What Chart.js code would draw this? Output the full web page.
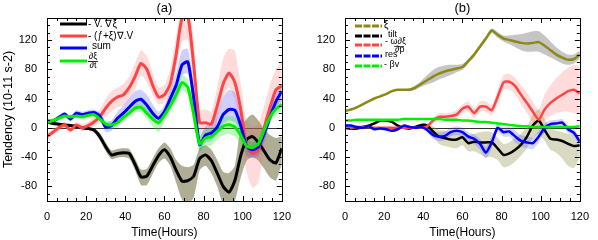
<!DOCTYPE html>
<html>
<head>
<meta charset="utf-8">
<script src="https://cdn.jsdelivr.net/npm/chart.js@4.4.1/dist/chart.umd.min.js"></script>
<style>
  body { margin: 0; background: #fff; }
  #wrapA { position: absolute; left: 0; top: 0; width: 300px; height: 240px; }
  #wrapB { position: absolute; left: 300px; top: 0; width: 298px; height: 240px; }
</style>
</head>
<body>
<div id="wrapA"><canvas id="chartA" width="300" height="240"></canvas></div>
<div id="wrapB"><canvas id="chartB" width="298" height="240"></canvas></div>
<script>
// time axis, every 3 hours
var hours = [0,3,6,9,12,15,18,21,24,27,30,33,36,39,42,45,48,51,54,57,60,63,66,69,72,75,78,81,84,87,90,93,96,99,102,105,108,111,114,117,120];
var xTicks = [0,20,40,60,80,100,120];
var yTicks = [-80,-40,0,40,80,120];

// (a) -V.grad(xi)
var advA   = [8,6,5,4,3,2,0,-1,-3,-12,-26,-37,-35,-34,-35,-50,-67,-66,-52,-38,-30,-40,-58,-73,-72,-66,-42,-37,-45,-62,-80,-88,-72,-38,-16,-12,-20,-32,-44,-48,-28];
var advAHi = [10,8,7,6,5,4,2,1,-1,-7,-20,-31,-29,-28,-29,-42,-57,-56,-42,-28,-20,-28,-44,-52,-54,-50,-28,-24,-30,-44,-60,-62,-52,0,12,18,10,-2,-10,-14,-12];
var advALo = [6,4,3,2,1,0,-2,-3,-6,-17,-32,-43,-41,-40,-42,-58,-78,-78,-63,-48,-42,-52,-75,-98,-105,-95,-58,-52,-62,-80,-105,-110,-100,-68,-45,-40,-45,-56,-68,-72,-48];
// (a) -(f+xi)div.V
var divA   = [-12,-6,0,4,-3,4,0,3,8,15,27,36,42,45,55,70,88,80,58,42,45,60,100,150,152,85,7,7,5,30,60,75,62,25,-25,-35,-30,0,28,52,57];
var divAHi = [-8,-2,4,8,1,8,5,8,15,25,40,50,55,60,70,88,106,98,75,55,58,80,125,175,180,120,25,25,22,55,95,108,105,60,10,2,5,30,60,80,90];
var divALo = [-16,-10,-4,0,-7,0,-5,-2,2,6,15,22,28,30,38,52,72,62,45,32,35,45,80,118,120,50,-8,-8,-10,10,42,55,40,-5,-60,-82,-75,-25,8,30,35];
// (a) sum
var sumA   = [9,9,14,19,12,20,18,20,21,16,1,3,13,20,28,36,39,31,20,13,22,40,58,86,90,40,-23,-10,-7,1,18,25,24,3,-25,-30,-26,-8,15,36,50];
var sumAHi = [12,12,17,22,16,24,22,24,25,21,8,10,22,30,40,50,52,45,32,22,30,52,75,106,108,55,-12,2,8,20,42,52,48,18,-15,-20,-16,0,24,45,60];
var sumALo = [6,6,11,16,8,16,14,16,17,11,-6,-4,6,12,18,26,28,20,10,4,14,30,44,72,74,25,-32,-20,-18,-10,5,10,8,-10,-38,-42,-38,-18,6,26,40];
// (a) dxi/dt
var dxiA   = [7,10,13,16,15,16,15,17,18,12,5,4,7,14,20,27,28,20,12,7,17,30,45,62,55,18,-22,-14,-12,-5,2,4,1,-10,-25,-27,-22,-3,15,26,32];
var dxiAHi = [10,13,16,19,18,19,18,20,21,16,10,9,12,19,25,33,35,28,20,15,25,38,54,72,66,30,-10,-2,0,6,14,16,14,2,-15,-18,-12,6,22,33,40];
var dxiALo = [4,7,10,13,12,13,12,14,15,8,0,-2,2,9,15,21,21,12,2,-6,8,22,36,52,44,6,-32,-26,-24,-16,-10,-8,-12,-22,-35,-36,-32,-12,8,18,24];

// (b) xi
var xiB    = [23,25,28,32,36,40,43,46,50,52,52,52,55,60,65,70,74,77,79,81,83,91,100,111,122,133,127,122,120,118,116,115,116,117,112,106,100,96,93,94,100];
var xiBHi  = [24,26,29,33,37,41,44,47,51,53,53,54,58,64,72,79,83,85,86,86,87,94,103,114,125,136,131,126,126,127,128,130,132,132,126,118,110,104,100,100,106];
var xiBLo  = [22,24,27,31,35,39,42,45,49,51,51,50,52,56,59,62,66,69,72,76,79,88,97,108,119,130,123,118,114,110,106,104,104,104,100,96,92,88,86,88,94];
// (b) tilt
var tiltB   = [0,-1,-1,1,3,6,10,10,8,3,0,-1,1,4,3,-5,-12,-14,-16,-16,-13,-21,-19,-20,-20,-20,-28,-37,-35,-30,-23,-12,3,10,-3,-15,-16,-18,-22,-25,-24];
var tiltBHi = [2,1,1,3,5,8,12,12,10,5,2,1,3,6,6,2,-3,-4,-6,-6,-4,-10,-8,-6,-5,-6,-14,-22,-20,-14,-8,2,18,25,12,0,-4,-6,-8,-10,-10];
var tiltBLo = [-2,-3,-3,-1,1,4,8,8,6,1,-2,-3,-1,2,0,-12,-22,-25,-27,-28,-24,-32,-32,-36,-40,-40,-44,-54,-52,-46,-38,-28,-14,-8,-18,-30,-34,-42,-52,-55,-40];
// (b) -omega dxi/dp
var omgB   = [0,0,1,1,1,0,0,0,0,0,0,0,0,0,2,10,15,15,16,18,26,29,20,29,29,24,42,62,63,57,45,34,22,11,25,34,40,45,50,52,47];
var omgBHi = [1,1,2,2,2,1,1,1,1,1,1,1,1,1,4,14,20,20,21,24,32,36,27,36,36,31,52,72,74,68,58,48,36,25,45,58,68,76,82,86,84];
var omgBLo = [-1,-1,0,0,0,-1,-1,-1,-1,-1,-1,-1,-1,-1,0,6,10,10,11,12,20,22,13,22,22,17,32,52,52,46,32,20,8,-2,10,16,20,22,22,20,18];
// (b) res
var resB   = [3,3,1,0,2,-2,-1,-2,-4,-2,3,1,0,1,-3,-10,-12,-11,-6,-4,-6,-12,-15,-22,-34,-20,0,-6,-5,-12,-18,-20,-21,-12,0,5,6,7,-2,-7,-19];
var resBHi = [5,5,3,2,4,0,1,0,-2,0,5,3,2,3,0,-5,-6,-5,0,2,0,-6,-9,-15,-26,-12,6,0,2,-4,-10,-12,-13,-4,6,10,11,12,3,-2,-14];
var resBLo = [1,1,-1,-2,0,-4,-3,-4,-6,-4,1,-1,-2,-1,-6,-15,-18,-17,-12,-10,-12,-18,-22,-30,-42,-28,-6,-12,-12,-20,-26,-28,-29,-20,-6,0,1,2,-7,-12,-24];
// (b) -beta v
var betaB  = [10,10,11,11,11,11,11,11,11,11,12,12,12,12,12,12,12,11,11,11,10,10,9,8,8,7,6,5,4,3,2,2,1,1,1,1,1,1,1,1,2];

var FONT = "'Liberation Sans', Arial, Helvetica, sans-serif";
Chart.defaults.font.family = FONT;
Chart.defaults.color = '#000';

var panelLabels = {chartA: '(a)', chartB: '(b)'};
var legends = {};

function pts(vals) {
    return vals.map(function (v, i) { return {x: hours[i], y: v}; });
}

function lineSet(vals, color, width, order) {
    return {data: pts(vals), borderColor: color, borderWidth: width, pointRadius: 0,
            tension: 0.2, fill: false, order: order};
}

// band = upper dataset filled down to the lower dataset right after it
function bandSets(hi, lo, color, order) {
    return [
        {data: pts(hi), borderWidth: 0, borderColor: 'rgba(0,0,0,0)', backgroundColor: color,
         pointRadius: 0, tension: 0.2, fill: '+1', order: order},
        {data: pts(lo), borderWidth: 0, borderColor: 'rgba(0,0,0,0)', pointRadius: 0,
         tension: 0.2, fill: false, order: order}
    ];
}

// box, inward ticks on four sides, zero line
var framePlugin = {
    id: 'frame',
    beforeDatasetsDraw: function (chart) {
        var ctx = chart.ctx, a = chart.chartArea;
        var y0 = Math.round(chart.scales.y.getPixelForValue(0)) + 0.5;
        ctx.save();
        ctx.strokeStyle = '#333';
        ctx.lineWidth = 1;
        ctx.beginPath();
        ctx.moveTo(a.left, y0);
        ctx.lineTo(a.right, y0);
        ctx.stroke();
        ctx.restore();
    },
    afterDatasetsDraw: function (chart) {
        var fn = legends[chart.canvas.id];
        if (fn) fn(chart.ctx);
    },
    afterDraw: function (chart) {
        var ctx = chart.ctx, a = chart.chartArea, xs = chart.scales.x, ys = chart.scales.y;
        ctx.save();
        ctx.strokeStyle = '#000';
        ctx.lineWidth = 1;
        ctx.strokeRect(Math.round(a.left) + 0.5, Math.round(a.top) + 0.5,
                       Math.round(a.right - a.left), Math.round(a.bottom - a.top));
        ctx.beginPath();
        for (var t = 0; t <= 120; t += 5) {
            var len = (t % 20 == 0) ? 5 : 3;
            var px = Math.round(xs.getPixelForValue(t)) + 0.5;
            ctx.moveTo(px, a.bottom); ctx.lineTo(px, a.bottom - len);
            ctx.moveTo(px, a.top); ctx.lineTo(px, a.top + len);
        }
        for (var v = -100; v <= 150; v += 10) {
            var ln = (v % 40 == 0) ? 5 : 3;
            var py = Math.round(ys.getPixelForValue(v)) + 0.5;
            ctx.moveTo(a.left, py); ctx.lineTo(a.left + ln, py);
            ctx.moveTo(a.right, py); ctx.lineTo(a.right - ln, py);
        }
        ctx.stroke();
        ctx.font = '13px ' + FONT;
        ctx.fillStyle = '#000';
        ctx.textAlign = 'center';
        ctx.textBaseline = 'middle';
        ctx.fillText(panelLabels[chart.canvas.id], (a.left + a.right) / 2, 8);
        ctx.restore();
    }
};

function legendLine(ctx, x1, x2, y, color, dashed) {
    ctx.save();
    ctx.strokeStyle = color;
    ctx.lineWidth = 3;
    if (dashed) ctx.setLineDash([7, 1.5]);
    ctx.beginPath();
    ctx.moveTo(x1, y);
    ctx.lineTo(x2, y);
    ctx.stroke();
    ctx.restore();
}

function txt(ctx, s, x, y, size, align) {
    ctx.font = size + 'px ' + FONT;
    ctx.textAlign = align || 'left';
    ctx.textBaseline = 'middle';
    ctx.fillText(s, x, y);
}

legends.chartA = function (ctx) {
    ctx.save();
    ctx.fillStyle = '#000';
    legendLine(ctx, 60, 87, 24, '#000');
    legendLine(ctx, 60, 87, 36, '#ff4444');
    legendLine(ctx, 60, 87, 48, '#0000ff');
    legendLine(ctx, 60, 87, 61, '#00ee00');
    txt(ctx, '- V. \u2207\u03be', 88, 24, 10);
    txt(ctx, '- (\u0192+\u03be)\u2207.V', 88, 36, 10);
    txt(ctx, 'sum', 92, 46, 10);
    txt(ctx, '\u2202\u03be', 93, 57, 9, 'center');
    txt(ctx, '\u2202t', 93, 66, 9, 'center');
    ctx.fillRect(88, 61, 10, 0.8);
    ctx.restore();
};

// panel (b) canvas starts at x = 300 on the page
legends.chartB = function (ctx) {
    ctx.save();
    ctx.translate(-300, 0);
    ctx.fillStyle = '#000';
    legendLine(ctx, 355, 382, 26, '#8c8a14', true);
    legendLine(ctx, 355, 382, 36, '#000', true);
    legendLine(ctx, 355, 382, 45, '#ff4444', true);
    legendLine(ctx, 355, 382, 56, '#0000ff', true);
    legendLine(ctx, 355, 382, 66, '#00ee00', true);
    txt(ctx, '\u03be', 384, 25, 10);
    txt(ctx, 'tilt', 388, 35, 9);
    txt(ctx, '- \u03c9\u2202\u03be', 385, 42, 9);
    ctx.fillRect(394, 46, 10, 0.7);
    txt(ctx, '\u2202p', 395, 50, 9);
    txt(ctx, 'res', 385, 55, 9);
    txt(ctx, '- \u03b2v', 384, 65, 9);
    ctx.restore();
};

function makeChart(id, datasets, yWidth, yTitle) {
    return new Chart(document.getElementById(id), {
        type: 'line',
        data: {datasets: datasets},
        options: {
            responsive: false,
            animation: false,
            devicePixelRatio: 1,
            layout: {padding: {top: 18, right: 0, left: 0, bottom: 0}},
            plugins: {legend: {display: false}, tooltip: {enabled: false}},
            scales: {
                x: {
                    type: 'linear', min: 0, max: 120,
                    grid: {display: false, drawTicks: false},
                    border: {display: false},
                    afterBuildTicks: function (s) { s.ticks = xTicks.map(function (v) { return {value: v}; }); },
                    afterFit: function (s) { s.height = 39; },
                    ticks: {padding: 9, font: {size: 11}, maxRotation: 0},
                    title: {display: true, text: 'Time(Hours)', font: {size: 12}, padding: {top: 0, bottom: 0}}
                },
                y: {
                    type: 'linear', min: -100, max: 150,
                    grid: {display: false, drawTicks: false},
                    border: {display: false},
                    afterBuildTicks: function (s) { s.ticks = yTicks.map(function (v) { return {value: v}; }); },
                    afterFit: function (s) { s.width = yWidth; },
                    ticks: {padding: 10, font: {size: 11}},
                    title: {display: yTitle != null, text: yTitle || '', font: {size: 12.5}, padding: {top: 1, bottom: 0}}
                }
            }
        },
        plugins: [framePlugin]
    });
}

var setsA = [].concat(
    bandSets(advAHi, advALo, 'rgba(110,105,60,0.55)', 20),
    bandSets(divAHi, divALo, 'rgba(255,90,90,0.22)', 19),
    bandSets(sumAHi, sumALo, 'rgba(60,60,255,0.25)', 18),
    bandSets(dxiAHi, dxiALo, 'rgba(40,230,40,0.3)', 17),
    [lineSet(advA, '#000000', 3, 4),
     lineSet(divA, '#ff4444', 3, 3),
     lineSet(sumA, '#0000ff', 3, 2),
     lineSet(dxiA, '#00ee00', 3, 1)]
);

var setsB = [].concat(
    bandSets(xiBHi, xiBLo, 'rgba(110,110,110,0.4)', 20),
    bandSets(tiltBHi, tiltBLo, 'rgba(150,150,80,0.35)', 19),
    bandSets(omgBHi, omgBLo, 'rgba(255,90,90,0.22)', 18),
    bandSets(resBHi, resBLo, 'rgba(60,60,255,0.22)', 17),
    [lineSet(xiB, '#8c8a14', 2.5, 5),
     lineSet(tiltB, '#000000', 2.5, 4),
     lineSet(omgB, '#ff4444', 2.5, 3),
     lineSet(resB, '#0000ff', 2.5, 2),
     lineSet(betaB, '#00ee00', 2.5, 1)]
);

makeChart('chartA', setsA, 47, 'Tendency (10-11 s-2)');
makeChart('chartB', setsB, 45, null);
</script>
</body>
</html>
